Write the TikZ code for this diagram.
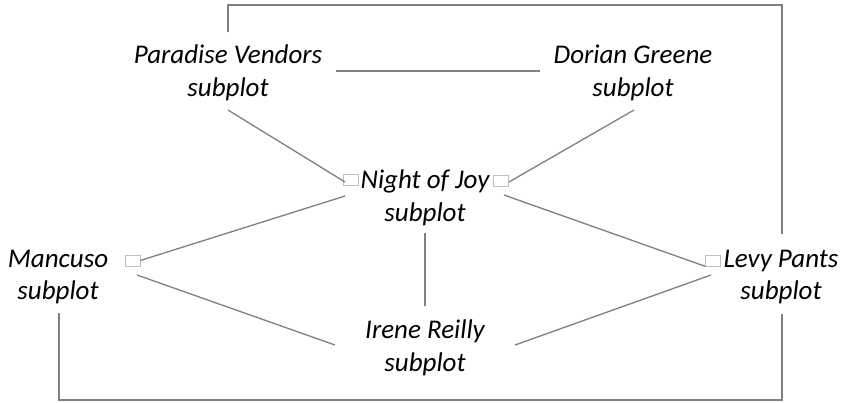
\documentclass[tikz,border=0pt]{standalone}
\usepackage{fontspec}
\setmainfont{Carlito}
\begin{document}
\begin{tikzpicture}[x=1pt,y=-1pt,
  lbl/.style={font=\fontsize{27}{32.5}\selectfont\itshape, align=center, inner sep=0pt},
  conn/.style={draw=black!50, line width=1.3pt},
  tinybox/.style={draw=black!25, fill=white, line width=0.6pt, minimum width=15pt, minimum height=11pt, inner sep=0pt}]
\fill[white] (0,0) rectangle (844,402);
\useasboundingbox (0,0) rectangle (844,402);
% text nodes
\node[lbl] (pv) at (228,73) {Paradise Vendors\\subplot};
\node[lbl] (dg) at (633,73) {Dorian Greene\\subplot};
\node[lbl] (nj) at (425,198) {Night of Joy\\subplot};
\node[lbl] (mc) at (58,277) {Mancuso\\subplot};
\node[lbl] (lp) at (781,277) {Levy Pants\\subplot};
\node[lbl] (ir) at (425,348) {Irene Reilly\\subplot};
% small boxes
\node[tinybox] (njl) at (350.5,179.5) {};
\node[tinybox] (njr) at (501,180.5) {};
\node[tinybox] (mcb) at (132.5,260.5) {};
\node[tinybox] (lpb) at (713,260.5) {};
% connector end points
\coordinate (pvs) at (228,110);
\coordinate (pvr) at (336,71);
\coordinate (pvt) at (228,32);
\coordinate (topc) at (228,5);
\coordinate (dgs) at (634,110);
\coordinate (dgl) at (540,71);
\coordinate (njsw) at (345,196);
\coordinate (njse) at (504,195);
\coordinate (njs) at (425,233);
\coordinate (mcse) at (137,275);
\coordinate (mcs) at (59,313);
\coordinate (botc) at (59,400);
\coordinate (irn) at (425,306);
\coordinate (irw) at (335,345);
\coordinate (ire) at (515,345);
\coordinate (lpt) at (782,234);
\coordinate (lps) at (782,314);
\coordinate (lpsw) at (711,275);
% connectors
\draw[conn] (pvr) -- (dgl);
\draw[conn] (pvs) -- (345,182);
\draw[conn] (dgs) -- (509,182);
\draw[conn] (njsw) -- (mcb.east);
\draw[conn] (mcse) -- (irw);
\draw[conn] (njs) -- (irn);
\draw[conn] (njse) -- (lpb.south west);
\draw[conn] (ire) -- (lpsw);
\draw[conn] (pvt) -- (topc) -| (lpt);
\draw[conn] (mcs) -- (botc) -| (lps);
\end{tikzpicture}
\end{document}
